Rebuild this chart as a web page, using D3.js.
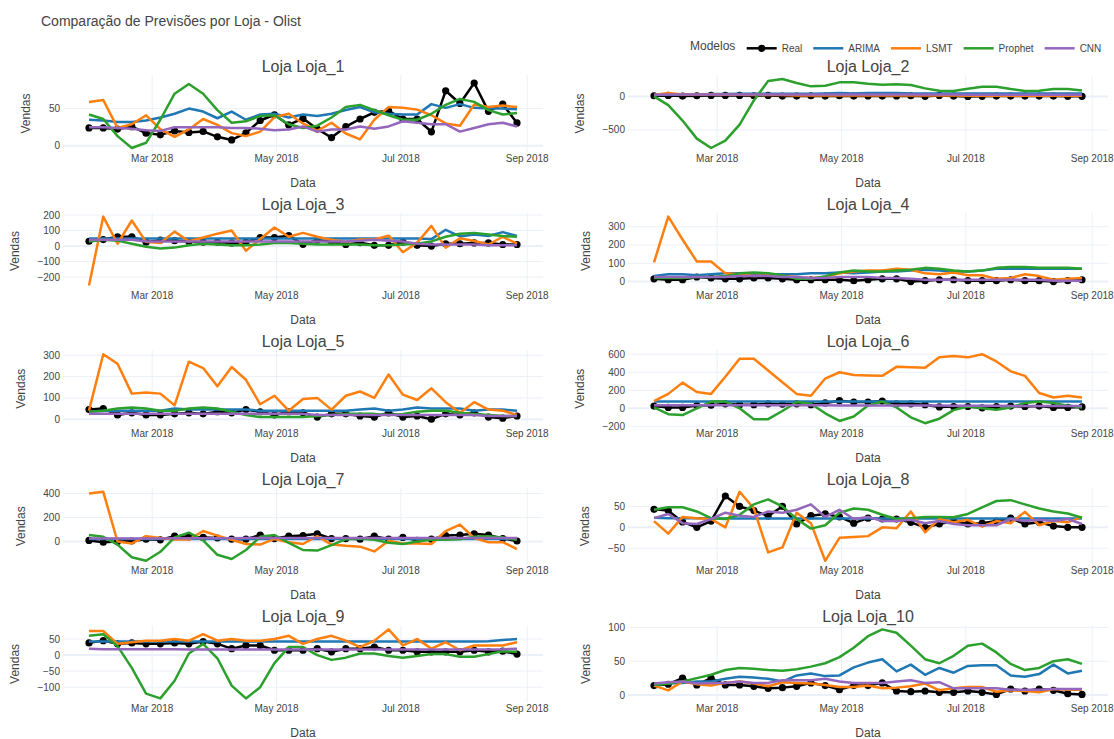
<!DOCTYPE html>
<html>
<head>
<meta charset="utf-8">
<script src="https://cdn.jsdelivr.net/npm/d3@7"></script>
<style>
  html, body { margin: 0; padding: 0; background: #fff; }
  svg { display: block; font-family: "Liberation Sans", Arial, sans-serif; }
</style>
</head>
<body>
<svg id="chart" width="1114" height="739"></svg>
<script>
// Weekly dates shared by every store
const weeks = [
  "2018-01-29","2018-02-05","2018-02-12","2018-02-19","2018-02-26","2018-03-05","2018-03-12","2018-03-19",
  "2018-03-26","2018-04-02","2018-04-09","2018-04-16","2018-04-23","2018-04-30","2018-05-07","2018-05-14",
  "2018-05-21","2018-05-28","2018-06-04","2018-06-11","2018-06-18","2018-06-25","2018-07-02","2018-07-09",
  "2018-07-16","2018-07-23","2018-07-30","2018-08-06","2018-08-13","2018-08-20","2018-08-27"
];

const stores = ["Loja_1","Loja_2","Loja_3","Loja_4","Loja_5","Loja_6","Loja_7","Loja_8","Loja_9","Loja_10"];

const models = ["Real","ARIMA","LSMT","Prophet","CNN"];
const modelColors = ["#000000","#1f77b4","#ff7f0e","#2ca02c","#9467bd"];

// Observed weekly sales, one row per store
const realSales = [
  [24,24,22.5,25.7,17,14.7,20,18,19.3,12,7.8,17.4,34,41.7,28,36.7,22.5,11,25.7,36,45,46.8,36,36,18.8,73.9,56.9,84.4,46.3,56,30.7],
  [10,15,5,10,15,15,15,10,15,5,5,10,5,10,5,8,5,8,10,2,15,5,0,2,5,5,5,5,5,2,2],
  [31,42,60,60,25,38,35,30,25,25,20,25,55,55,67,11,38,28,10,22,5,5,25,5,0,15,15,20,20,10,10],
  [15,10,10,25,20,15,15,20,20,15,10,10,10,10,5,10,15,15,0,5,10,10,5,5,5,10,5,5,0,5,10],
  [45,50,20,30,20,20,25,30,25,35,30,45,35,20,35,30,10,25,25,15,10,30,10,15,0,25,20,30,10,5,15],
  [25,10,10,30,35,50,40,40,50,45,50,40,60,85,70,70,80,50,50,40,15,20,20,5,20,25,20,25,10,10,15],
  [10,-5,0,5,20,15,45,40,35,30,20,20,55,25,45,50,65,25,25,20,45,20,35,10,20,50,55,65,55,25,5],
  [43,40,13,0,15,75,50,40,27,50,8,28,32,25,10,22,20,20,12,0,8,15,8,10,15,22,8,12,3,0,0],
  [38,45,35,38,35,35,38,35,42,35,20,30,30,15,15,15,20,10,20,20,25,15,15,10,10,10,10,15,10,12,3],
  [14,16,25,15,25,15,15,13,10,11,13,18,14,8,14,14,18,6,5,6,4,4,6,4,1,9,6,9,7,2,1]
];

// ARIMA forecasts
const arimaSales = [
  [35,34,32,32,34,38,43,50,46,37,46,35,42,43,38,42,40,43,48,52,45,43,42,42,56,51,56,51,50,50,49],
  [20,25,30,30,35,35,40,40,40,40,40,40,45,50,45,50,50,50,45,45,45,45,45,45,45,45,45,45,45,45,45],
  [48,48,48,48,48,48,48,48,48,48,48,48,48,48,48,48,48,48,48,48,48,48,48,48,45,105,62,75,65,90,65],
  [30,40,40,35,40,45,45,40,40,40,40,45,45,50,45,50,55,55,60,65,60,55,55,60,70,70,70,70,70,70,70],
  [35,40,40,40,40,40,50,45,45,45,45,45,40,40,40,40,40,40,40,45,50,40,45,55,50,50,50,40,45,45,40],
  [75,75,75,75,75,75,75,75,75,75,75,75,75,75,75,75,75,75,75,75,75,75,75,75,75,75,75,75,75,75,75],
  [22,22,22,22,22,22,22,22,22,22,22,22,22,22,22,22,22,22,22,22,22,22,22,22,22,22,22,22,22,22,22],
  [23,22,22,22,22,21,21,21,21,21,21,21,21,21,21,21,21,21,21,21,21,21,21,21,21,21,21,21,21,21,21],
  [42,42,42,42,42,42,42,42,42,42,42,42,42,42,42,42,42,42,42,42,42,42,42,42,42,42,42,42,43,47,50],
  [15,17,18,20,20,24,27,26,24,20,29,32,28,29,41,48,53,35,45,30,40,33,43,44,44,29,27,31,45,32,36]
];

// LSMT forecasts
const lsmtSales = [
  [59,61.5,24,29,41,22.5,12,22,36,28,17,13,19,38.5,43,30,20,31,16.5,8.7,35,52,51,48.6,41,30,27,55.5,52,54,52],
  [20,50,30,30,30,25,25,20,20,20,15,15,15,15,15,15,15,15,15,15,15,15,10,10,10,10,10,10,10,10,10],
  [-255,190,15,165,27,20,93,31,55,80,100,-30,45,120,60,85,60,40,27,42,42,67,-40,22,130,-10,50,33,10,60,15],
  [105,355,230,110,110,45,40,30,35,30,25,20,25,45,55,60,60,70,65,45,40,50,35,35,15,20,40,30,10,15,20],
  [40,305,260,120,125,120,65,270,240,155,245,185,70,110,40,95,100,45,110,130,100,210,115,90,145,80,30,80,45,40,20],
  [80,160,285,180,160,350,550,550,420,290,160,140,330,400,370,365,360,460,455,450,565,580,565,600,520,410,360,170,120,140,120],
  [400,415,0,-15,45,30,17,17,88,50,15,-20,-25,22,-5,-20,45,-25,-35,-42,-82,8,-15,-15,-20,88,142,30,-5,-5,-62],
  [15,-15,25,22,20,0,85,45,-60,-48,35,10,-80,-25,-23,-21,0,-2,38,-12,20,12,18,2,15,10,37,5,15,12,25],
  [75,75,35,40,45,45,50,45,65,45,50,45,45,50,60,35,50,60,45,25,45,80,30,50,20,40,15,30,30,30,40],
  [14,7,20,16,14,18,20,17,13,19,18,17,15,12,12,14,10,11,13,17,7,10,12,12,5,7,6,4,9,8,8]
];

// Prophet forecasts
const prophetSales = [
  [42,36,13,-3,4,35,70,83,70,48,31,33,40,41,29,24,27,38,52,55,48,41,35,35,43,55,63,59,48,42,44],
  [0,-130,-360,-630,-770,-660,-420,-60,230,260,200,150,160,210,210,190,175,180,170,120,85,80,115,145,145,110,80,85,110,110,90],
  [30,40,35,15,-5,-15,-10,5,15,10,5,5,10,20,20,15,10,10,10,10,5,5,10,15,30,60,80,85,75,65,60],
  [20,20,20,25,25,30,45,50,45,35,15,15,30,50,60,55,55,60,65,75,70,60,55,60,75,80,80,75,75,75,70],
  [35,40,50,55,50,40,40,50,55,50,35,20,10,10,10,10,15,20,25,25,25,20,25,35,40,40,30,25,20,15,15],
  [10,-65,-75,0,75,75,0,-120,-120,-30,70,50,-55,-140,-90,30,75,10,-100,-165,-115,-20,20,0,-15,10,60,75,60,30,10],
  [55,40,-25,-130,-160,-85,35,75,10,-110,-145,-70,40,55,-10,-70,-75,-30,20,25,15,-10,-20,0,15,15,20,40,45,35,15],
  [42,48,48,38,22,20,30,55,67,50,20,-3,5,35,45,42,30,20,22,25,25,24,32,48,63,65,55,45,38,33,23],
  [60,65,28,-40,-120,-135,-80,5,35,-10,-95,-135,-100,-25,25,25,0,-15,-8,5,5,-3,-8,-3,3,3,-5,-5,3,12,10],
  [15,17,20,25,30,37,40,39,37,36,38,42,47,56,70,87,97,92,73,53,47,58,73,76,63,46,37,40,50,53,46]
];

// CNN forecasts
const cnnSales = [
  [25,25,24,23,21,20,25,25,25,25,24,24,23,21,22,26,19,22,22,26,23,26,33,31,29,29,19,24,29,31,26],
  [25,30,30,30,30,30,30,30,30,30,30,30,30,30,30,30,30,30,30,30,30,30,25,25,25,25,25,25,25,25,25],
  [40,40,40,40,30,30,30,30,30,30,30,30,30,30,30,30,30,30,30,35,40,35,30,15,10,10,10,10,5,5,5],
  [25,25,25,25,25,25,30,30,30,25,25,20,20,25,25,25,20,20,15,10,10,10,10,10,10,10,10,10,5,5,5],
  [25,25,25,25,25,25,25,25,25,25,25,25,25,25,25,25,20,20,20,20,20,20,20,20,20,20,20,20,15,15,15],
  [35,35,35,35,35,35,35,34,34,34,33,33,33,32,32,32,31,31,30,30,30,29,29,28,28,27,27,26,26,25,25],
  [25,25,25,25,26,26,27,27,28,28,28,29,29,30,30,30,30,30,30,30,30,30,30,30,30,30,30,30,30,30,30],
  [22,32,10,8,20,35,28,25,38,35,42,55,25,42,20,25,15,15,18,10,15,8,5,5,5,20,15,18,15,20,8],
  [20,18,18,18,18,18,18,17,17,17,17,17,17,17,17,17,17,17,17,17,17,17,17,17,17,17,17,17,17,18,20],
  [17,19,20,17,18,18,20,18,18,22,22,22,24,20,18,18,18,20,22,18,19,10,10,10,10,8,8,8,9,9,9]
];

// Y-axis tick values for each store panel
const yTickValues = [
  [0,50],
  [-500,0],
  [-200,-100,0,100,200],
  [0,100,200,300],
  [0,100,200,300],
  [-200,0,200,400,600],
  [0,200,400],
  [-50,0,50],
  [-100,-50,0,50],
  [0,50,100]
];

// X-axis tick dates and labels
const xTickDates = ["2018-03-01","2018-05-01","2018-07-01","2018-09-01"];
const xTickLabels = ["Mar 2018","May 2018","Jul 2018","Sep 2018"];

const chartTitle = "Comparação de Previsões por Loja - Olist";
const legendTitle = "Modelos";

// ---------------------------------------------------------------
const svg = d3.select("#chart");
const parse = d3.timeParse("%Y-%m-%d");
const dates = weeks.map(parse);
const tickDates = xTickDates.map(parse);

const textColor = "#444";
const gridColor = "#EBF0F8";

const colLeft = [63, 628];
const plotW = 480;
const rowTop0 = 75, rowPitch = 137.6, plotH = 77;
const xPad = 26;

const fmt = v => (v < 0 ? "\u2212" + Math.abs(v) : String(v));

svg.append("text")
  .attr("x", 41).attr("y", 25.5)
  .attr("font-size", 14).attr("fill", textColor)
  .text(chartTitle);

const seriesSets = [realSales, arimaSales, lsmtSales, prophetSales, cnnSales];

// text width helper
const measure = svg.append("text").attr("font-size", 10).attr("visibility", "hidden");
function textW(t, size) {
  measure.attr("font-size", size).text(t);
  return measure.node().getComputedTextLength();
}

stores.forEach((store, si) => {
  const col = si % 2, row = Math.floor(si / 2);
  const left = colLeft[col], right = left + plotW;
  const top = rowTop0 + row * rowPitch, bottom = top + plotH;

  const x = d3.scaleTime()
    .domain(d3.extent(dates))
    .range([left + xPad, right - xPad]);

  // y range with padding (extra room where the marker series reaches the extreme)
  const all = seriesSets.flatMap(s => s[si]);
  const lo = d3.min(all), hi = d3.max(all);
  const realLo = d3.min(realSales[si]), realHi = d3.max(realSales[si]);
  const padTop = realHi >= hi ? 8 : 4;
  const padBot = realLo <= lo ? 8 : 4;
  const y = d3.scaleLinear().domain([lo, hi]).range([bottom - padBot, top + padTop]);
  const [dLo, dHi] = [y.invert(bottom), y.invert(top)];

  const g = svg.append("g");

  // grid
  const ticksY = yTickValues[si].filter(v => v >= dLo && v <= dHi);
  g.selectAll(".gy").data(ticksY.filter(v => v !== 0)).join("line")
    .attr("x1", left).attr("x2", right)
    .attr("y1", d => y(d)).attr("y2", d => y(d))
    .attr("stroke", gridColor).attr("stroke-width", 1);
  g.selectAll(".gx").data(tickDates).join("line")
    .attr("x1", d => x(d)).attr("x2", d => x(d))
    .attr("y1", top).attr("y2", bottom)
    .attr("stroke", gridColor).attr("stroke-width", 1);
  if (0 >= dLo && 0 <= dHi) {
    g.append("line")
      .attr("x1", left).attr("x2", right)
      .attr("y1", y(0)).attr("y2", y(0))
      .attr("stroke", gridColor).attr("stroke-width", 2);
  }

  // y tick labels
  g.selectAll(".ty").data(ticksY).join("text")
    .attr("x", left - 3).attr("y", d => y(d))
    .attr("dy", "0.35em").attr("text-anchor", "end")
    .attr("font-size", 10).attr("fill", textColor)
    .text(fmt);
  const maxTW = d3.max(ticksY, v => textW(fmt(v), 10));

  // x tick labels
  g.selectAll(".tx").data(tickDates).join("text")
    .attr("x", d => x(d)).attr("y", bottom + 9.5)
    .attr("text-anchor", "middle")
    .attr("font-size", 10).attr("fill", textColor)
    .text((d, i) => xTickLabels[i]);

  // axis titles
  g.append("text")
    .attr("x", (left + right) / 2).attr("y", bottom + 34.5)
    .attr("text-anchor", "middle").attr("font-size", 12).attr("fill", textColor)
    .text("Data");
  const vx = left - 3 - maxTW - 23;
  const vy = (top + bottom) / 2;
  g.append("text")
    .attr("transform", `translate(${vx},${vy}) rotate(-90)`)
    .attr("dy", "0.35em")
    .attr("text-anchor", "middle").attr("font-size", 12).attr("fill", textColor)
    .text("Vendas");

  // subplot title
  g.append("text")
    .attr("x", (left + right) / 2).attr("y", top - 3)
    .attr("text-anchor", "middle").attr("font-size", 16).attr("fill", textColor)
    .text("Loja " + store);

  // clip to the plot area
  const clipId = "clip" + si;
  svg.append("clipPath").attr("id", clipId)
    .append("rect").attr("x", left).attr("y", top).attr("width", plotW).attr("height", plotH);
  const pg = g.append("g").attr("clip-path", `url(#${clipId})`);

  const line = d3.line().x((d, i) => x(dates[i])).y(d => y(d));

  seriesSets.forEach((set, mi) => {
    const vals = set[si];
    pg.append("path")
      .datum(vals)
      .attr("d", line)
      .attr("fill", "none")
      .attr("stroke", modelColors[mi])
      .attr("stroke-width", 2.5)
      .attr("stroke-linejoin", "round");
    if (mi === 0) {
      pg.selectAll(".pt").data(vals).join("circle")
        .attr("cx", (d, i) => x(dates[i]))
        .attr("cy", d => y(d))
        .attr("r", 3.6)
        .attr("fill", modelColors[0]);
    }
  });
});

// legend
const lg = svg.append("g");
lg.append("text")
  .attr("x", 690).attr("y", 45.7).attr("dy", "0.35em")
  .attr("font-size", 12).attr("fill", textColor)
  .text(legendTitle);
let lx = 741.7;
const ly = 48.3;
models.forEach((m, i) => {
  lg.append("line")
    .attr("x1", lx + 5).attr("x2", lx + 35)
    .attr("y1", ly).attr("y2", ly)
    .attr("stroke", modelColors[i]).attr("stroke-width", 2.5);
  if (i === 0) {
    lg.append("circle").attr("cx", lx + 20).attr("cy", ly).attr("r", 3.6).attr("fill", modelColors[0]);
  }
  lg.append("text")
    .attr("x", lx + 40).attr("y", ly).attr("dy", "0.35em")
    .attr("font-size", 10).attr("fill", textColor)
    .text(m);
  lx += 40 + textW(m, 10) + 6;
});
measure.remove();
</script>
</body>
</html>
